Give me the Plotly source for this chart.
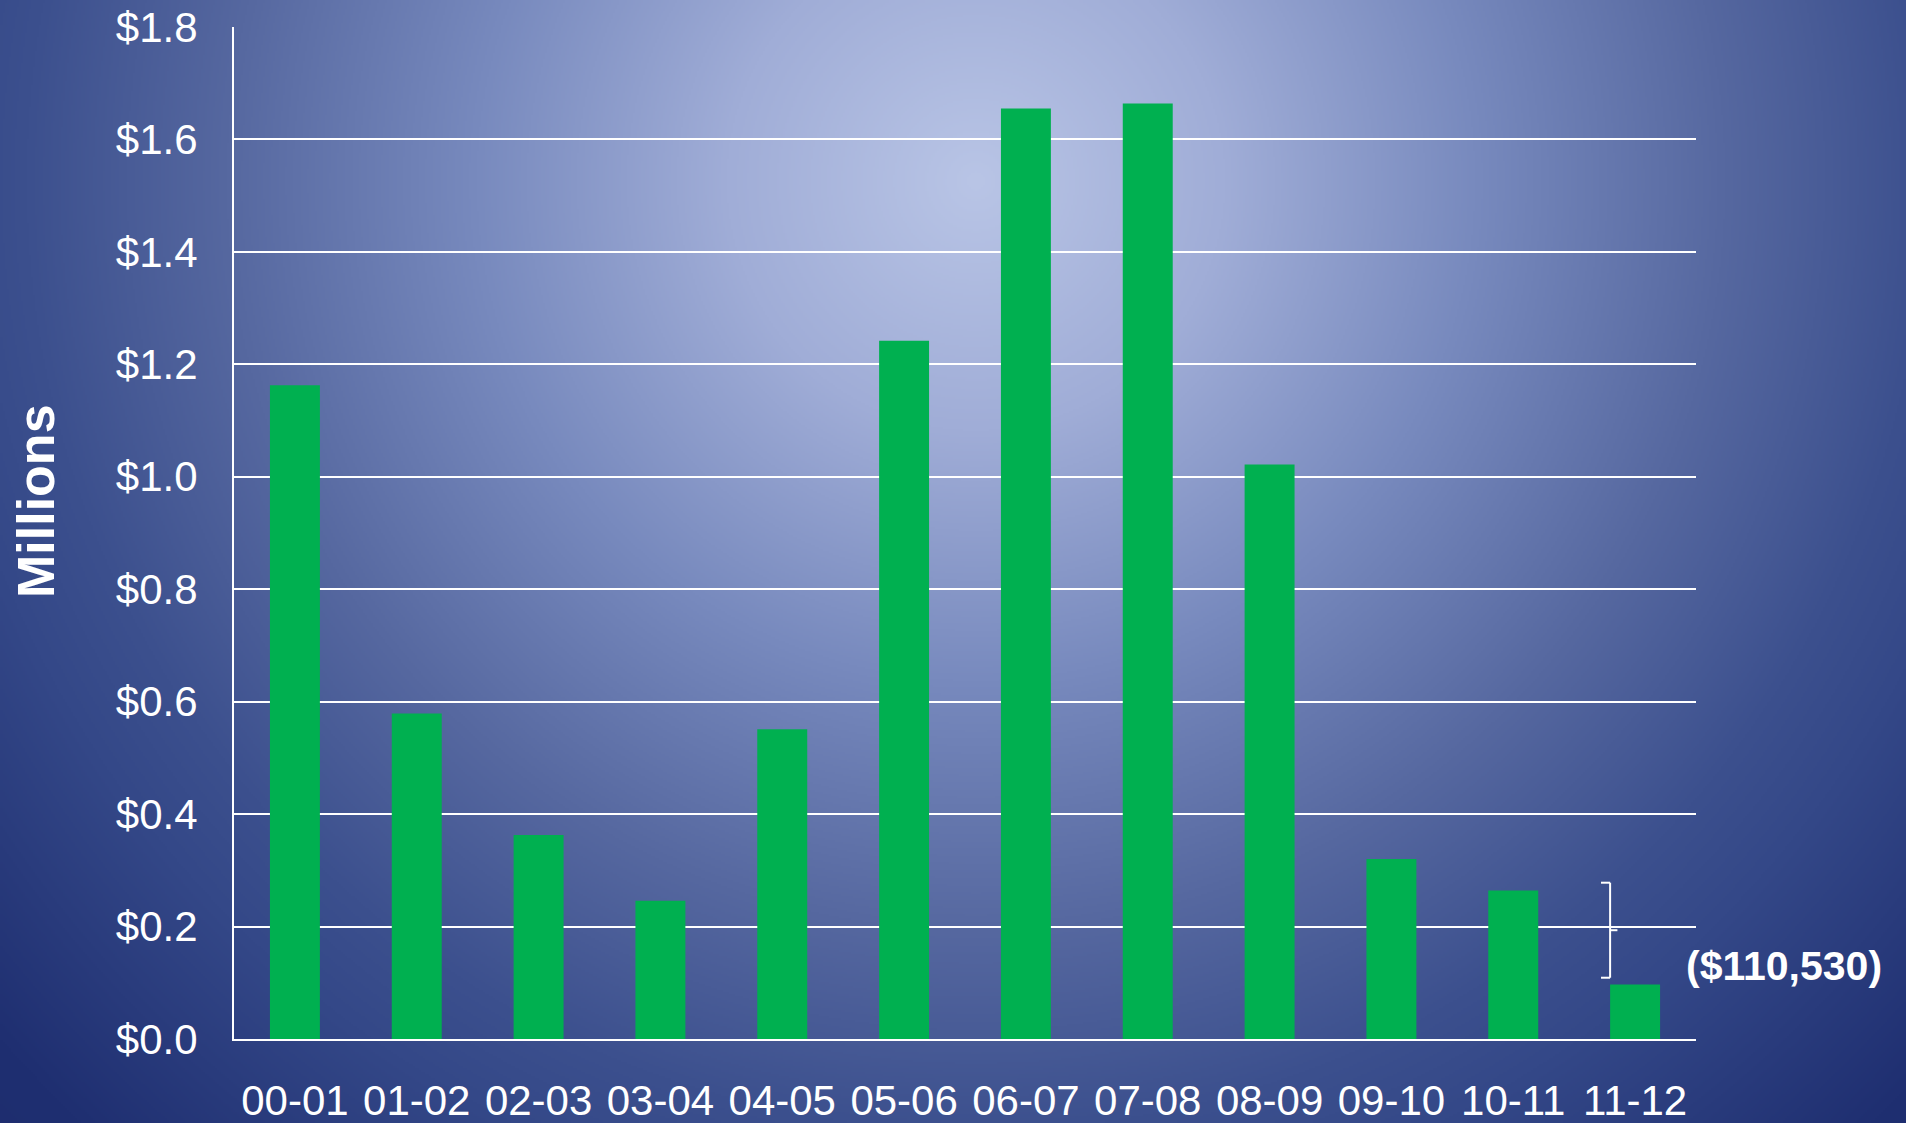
import base64
import struct
import zlib

import numpy as np
import plotly.graph_objects as go

# ---------------- data ----------------
years = ["00-01", "01-02", "02-03", "03-04", "04-05", "05-06",
         "06-07", "07-08", "08-09", "09-10", "10-11", "11-12"]
values_millions = [1.163, 0.579, 0.363, 0.246, 0.551, 1.242,
                   1.655, 1.664, 1.022, 0.320, 0.264, 0.097]
y_ticks = [0.0, 0.2, 0.4, 0.6, 0.8, 1.0, 1.2, 1.4, 1.6, 1.8]
y_tick_labels = ["$%.1f" % v for v in y_ticks]
callout_text = "($110,530)"
axis_title = "Millions"

# ---------------- layout geometry ----------------
W, H = 1906, 1123
ML, MR, MT, MB = 234, 210, 27, 84
PW, PH = W - ML - MR, H - MT - MB

# ---------------- background gradient (style only) ----------------
def gradient_png(w, h):
    yy, xx = np.mgrid[0:h, 0:w].astype(float)
    sx, sy = W / w, H / h
    d = np.sqrt((xx * sx - 975) ** 2 + (yy * sy - 180) ** 2)
    stops = [0, 250, 500, 750, 950, 1050, 1300, 1600]
    r = [185, 160, 120, 86, 60, 52, 31, 26]
    g = [197, 173, 138, 104, 80, 72, 47, 40]
    b = [230, 215, 190, 160, 142, 136, 113, 105]
    img = np.stack([np.interp(d, stops, r), np.interp(d, stops, g),
                    np.interp(d, stops, b)], axis=-1).astype(np.uint8)
    raw = b"".join(b"\x00" + img[i].tobytes() for i in range(h))

    def chunk(tag, data):
        c = struct.pack(">I", len(data)) + tag + data
        return c + struct.pack(">I", zlib.crc32(tag + data) & 0xFFFFFFFF)

    png = b"\x89PNG\r\n\x1a\n"
    png += chunk(b"IHDR", struct.pack(">IIBBBBB", w, h, 8, 2, 0, 0, 0))
    png += chunk(b"IDAT", zlib.compress(raw, 9))
    png += chunk(b"IEND", b"")
    return "data:image/png;base64," + base64.b64encode(png).decode()


bg = gradient_png(953, 562)

FONT = "Liberation Sans, Arial, sans-serif"
GREEN = "#00B050"

fig = go.Figure()
fig.add_trace(go.Bar(x=years, y=values_millions, marker=dict(color=GREEN, line=dict(width=0)),
                     width=0.41, hoverinfo="x+y"))

fig.update_layout(
    width=W, height=H,
    margin=dict(l=ML, r=MR, t=MT, b=MB, autoexpand=False),
    paper_bgcolor="#2a3c7c",
    plot_bgcolor="rgba(0,0,0,0)",
    showlegend=False,
    font=dict(family=FONT, color="white", size=42),
    images=[dict(source=bg, xref="paper", yref="paper",
                 x=-ML / PW, y=1 + MT / PH, sizex=W / PW, sizey=H / PH,
                 xanchor="left", yanchor="top", sizing="stretch", layer="below")],
)

fig.update_xaxes(
    type="category", showgrid=False, showline=True, linecolor="white", linewidth=2,
    ticks="", tickfont=dict(size=42, color="white", family=FONT),
    ticklabelstandoff=24, automargin=False, fixedrange=True,
)
fig.update_yaxes(
    range=[0, 1.8], tickvals=y_ticks, ticktext=y_tick_labels,
    showgrid=True, gridcolor="white", gridwidth=1.5, zeroline=False,
    showline=True, linecolor="white", linewidth=2,
    ticks="", tickfont=dict(size=42, color="white", family=FONT),
    ticklabelstandoff=26, automargin=False, fixedrange=True,
)

# Bracket between the last two bars
n = len(years)
def xp(idx):
    return (idx + 0.5) / n

top = values_millions[-2] + 0.014
bot = values_millions[-1] + 0.012
mid = (top + bot) / 2
bx = xp(n - 1) - 0.205 / n
ax_ = bx - 0.075 / n
cx = bx + 0.06 / n
for (x0, y0, x1, y1) in [(ax_, top, bx, top), (bx, top, bx, bot), (ax_, bot, bx, bot),
                         (bx, mid, cx, mid)]:
    fig.add_shape(type="line", xref="paper", yref="y", x0=x0, y0=y0, x1=x1, y1=y1,
                  line=dict(color="white", width=2))

fig.add_annotation(text=callout_text, xref="paper", yref="y",
                   x=xp(n - 1) + 0.40 / n, y=(bot + 0.02),
                   xanchor="left", yanchor="middle", showarrow=False,
                   font=dict(size=41, color="white", family=FONT, weight="bold"))

fig.add_annotation(text="<b>%s</b>" % axis_title, xref="paper", yref="paper",
                   x=(36 - ML) / PW, y=(H - MB - 501) / PH, textangle=-90,
                   xanchor="center", yanchor="middle", showarrow=False,
                   font=dict(size=52, color="white", family=FONT))

fig.write_html("out.html", config={"displayModeBar": False},
               post_script="document.body.style.margin='0';document.body.style.padding='0';")
